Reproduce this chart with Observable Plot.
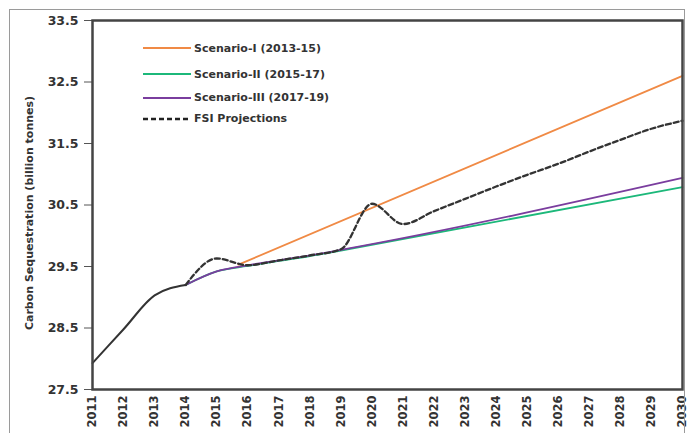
<!DOCTYPE html>
<html>
<head>
<meta charset="utf-8">
<script src="https://cdn.jsdelivr.net/npm/d3@7"></script>
<script src="https://cdn.jsdelivr.net/npm/@observablehq/plot@0.6"></script>
<style>
  html, body { margin: 0; padding: 0; background: #fff; }
  #wrap { position: relative; width: 687px; height: 433px; overflow: hidden; }
  #border { position: absolute; left: 9px; top: 9px; width: 676px; height: 440px; border: 1px solid #9a9a9a; box-sizing: border-box; pointer-events: none; }
  #chart { position: absolute; left: 0; top: 0; }
  #ylabel { position: absolute; left: 29px; top: 213px; transform: translate(-50%, -50%) rotate(-90deg); white-space: nowrap; font: bold 11px "DejaVu Sans", sans-serif; color: #333; }
  #legend { position: absolute; left: 143px; top: 35px; font: bold 11px "DejaVu Sans", sans-serif; color: #333; }
  #legend .row { display: flex; align-items: center; height: 21px; }
  #legend svg { margin-right: 3px; }
</style>
</head>
<body>
<div id="wrap">
  <div id="chart"></div>
  <div id="ylabel">Carbon Sequestration (billion tonnes)</div>
  <div id="legend"></div>
  <div id="border"></div>
</div>
<script>
// Years shown on the axis
const years = d3.range(2011, 2031);
const yTicks = [27.5, 28.5, 29.5, 30.5, 31.5, 32.5, 33.5];

// Observed history (billion tonnes)
const historyYears = [2011, 2012, 2013, 2014];
const historyValues = [27.93, 28.48, 29.03, 29.2];

// Scenario-I (2013-15)
const s1Years = [2015.7, 2030];
const s1Values = [29.53, 32.6];

// Scenario-II (2015-17)
const s2Years = [2014, 2015, 2016, 2017, 2018, 2019, 2030];
const s2Values = [29.2, 29.42, 29.51, 29.59, 29.67, 29.76, 30.79];

// Scenario-III (2017-19)
const s3Years = [2014, 2015, 2016, 2017, 2018, 2019, 2030];
const s3Values = [29.2, 29.42, 29.52, 29.6, 29.68, 29.77, 30.94];

// FSI Projections
const fsiYears = [2014, 2015, 2016, 2017, 2018, 2019, 2020, 2021, 2022, 2023, 2024, 2025, 2026, 2027, 2028, 2029, 2030];
const fsiValues = [29.2, 29.63, 29.52, 29.6, 29.68, 29.78, 30.52, 30.19, 30.4, 30.6, 30.8, 30.99, 31.17, 31.37, 31.56, 31.74, 31.87];

const seriesNames = ["Scenario-I (2013-15)", "Scenario-II (2015-17)", "Scenario-III (2017-19)", "FSI Projections"];
const seriesColors = ["#f08a45", "#1cb87a", "#7a3d9e", "#222"];
const legendGaps = [26, 26, 21, 21];

const zip = (xs, ys) => xs.map((x, i) => ({year: x, value: ys[i]}));
const history = zip(historyYears, historyValues);
const s1 = zip(s1Years, s1Values);
const s2 = zip(s2Years, s2Values);
const s3 = zip(s3Years, s3Values);
const fsi = zip(fsiYears, fsiValues);

const font = '"DejaVu Sans", sans-serif';

const chart = Plot.plot({
  width: 687,
  height: 433,
  marginLeft: 92,
  marginTop: 20,
  marginRight: 5,
  marginBottom: 44,
  style: {fontFamily: font, fontWeight: "bold", fontSize: "12px", color: "#333", background: "transparent"},
  x: {domain: [2011, 2030]},
  y: {domain: [27.5, 33.5]},
  marks: [
    Plot.axisX({ticks: years, tickFormat: d => String(d), tickRotate: -90, tickSize: 0, tickPadding: 6, label: null, fontSize: 11.5}),
    Plot.axisY({ticks: yTicks, tickFormat: d => d.toFixed(1), tickSize: 8, tickPadding: 6, label: null, stroke: "#555", fontSize: 12.5}),
    Plot.line(s2, {x: "year", y: "value", stroke: seriesColors[1], strokeWidth: 1.8, curve: "monotone-x"}),
    Plot.line(s3, {x: "year", y: "value", stroke: seriesColors[2], strokeWidth: 1.8, curve: "monotone-x"}),
    Plot.line(s1, {x: "year", y: "value", stroke: seriesColors[0], strokeWidth: 1.8}),
    Plot.line(history, {x: "year", y: "value", stroke: "#333", strokeWidth: 2, curve: "monotone-x"}),
    Plot.line(fsi, {x: "year", y: "value", stroke: "#333", strokeWidth: 2.3, strokeDasharray: "5,3", curve: "monotone-x"}),
    Plot.frame({stroke: "#444", strokeWidth: 2.5})
  ]
});
document.getElementById("chart").appendChild(chart);

// Legend entries
const legend = d3.select("#legend");
seriesNames.forEach((name, i) => {
  const row = legend.append("div").attr("class", "row").style("height", legendGaps[i] + "px");
  const sw = row.append("svg").attr("width", 48).attr("height", 6);
  sw.append("line")
    .attr("x1", 0).attr("x2", 48).attr("y1", 3).attr("y2", 3)
    .attr("stroke", seriesColors[i])
    .attr("stroke-width", i === 3 ? 2.3 : 1.8)
    .attr("stroke-dasharray", i === 3 ? "5,3" : null);
  row.append("span").text(name);
});
</script>
</body>
</html>
